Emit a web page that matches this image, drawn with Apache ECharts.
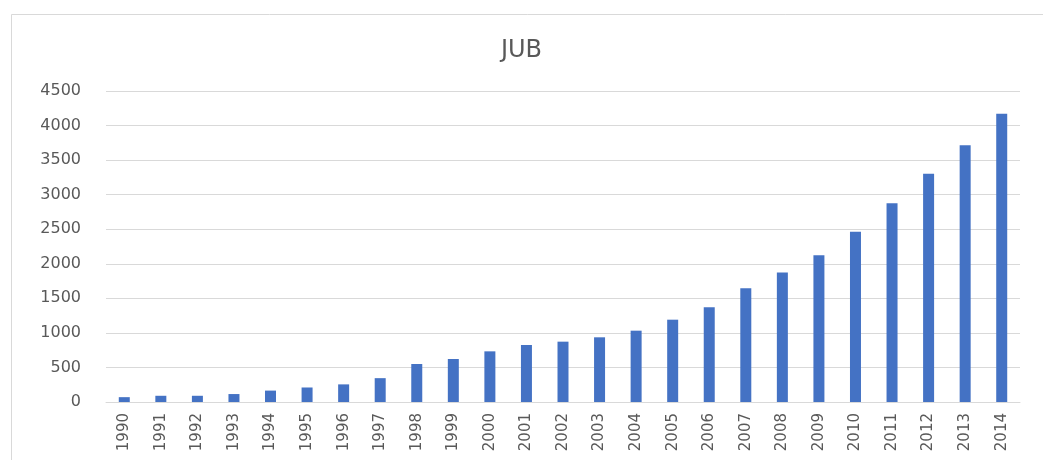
<!DOCTYPE html>
<html>
<head>
<meta charset="utf-8">
<script src="https://cdn.jsdelivr.net/npm/echarts@6/dist/echarts.min.js"></script>
<style>html,body{margin:0;padding:0;background:#fff;}#c{width:1043px;height:460px;}</style>
</head>
<body>
<div id="c"></div>
<script>
const categories = ['1990','1991','1992','1993','1994','1995','1996','1997','1998','1999','2000','2001','2002','2003','2004','2005','2006','2007','2008','2009','2010','2011','2012','2013','2014'];
const values = [70, 90, 90, 115, 165, 210, 255, 345, 550, 622, 733, 825, 873, 936, 1032, 1191, 1370, 1645, 1873, 2125, 2464, 2875, 3303, 3714, 4172];
const yTicks = { min: 0, max: 4500, interval: 500 };
const titleText = 'JUB';

const chart = echarts.init(document.getElementById('c'), null, { renderer: 'canvas' });
chart.setOption({
  backgroundColor: '#ffffff',
  animation: false,
  graphic: [{
    type: 'rect',
    shape: { x: 11.5, y: 14.5, width: 1100, height: 500 },
    style: { fill: 'none', stroke: '#d9d9d9', lineWidth: 1 },
    silent: true, z: -1
  }],
  title: {
    text: titleText,
    left: 'center',
    top: 34,
    textStyle: { fontFamily: 'DejaVu Sans', fontSize: 24, fontWeight: 'normal', color: '#595959' }
  },
  grid: { left: 106, right: 23, top: 91, bottom: 58, containLabel: false },
  xAxis: {
    type: 'category',
    data: categories,
    axisLine: { show: true, lineStyle: { color: '#d9d9d9', width: 1 } },
    axisTick: { show: false },
    axisLabel: { rotate: 90, interval: 0, margin: 11, fontFamily: 'DejaVu Sans', fontSize: 15, color: '#595959' }
  },
  yAxis: {
    type: 'value',
    min: yTicks.min, max: yTicks.max, interval: yTicks.interval,
    axisLine: { show: false },
    axisTick: { show: false },
    splitLine: { show: true, lineStyle: { color: '#d9d9d9', width: 1 } },
    axisLabel: { margin: 25, fontFamily: 'DejaVu Sans', fontSize: 16, color: '#595959', formatter: function (v) { return String(v); } }
  },
  series: [{
    type: 'bar',
    data: values,
    barWidth: 11,
    itemStyle: { color: '#4472c4' }
  }]
});
</script>
</body>
</html>
